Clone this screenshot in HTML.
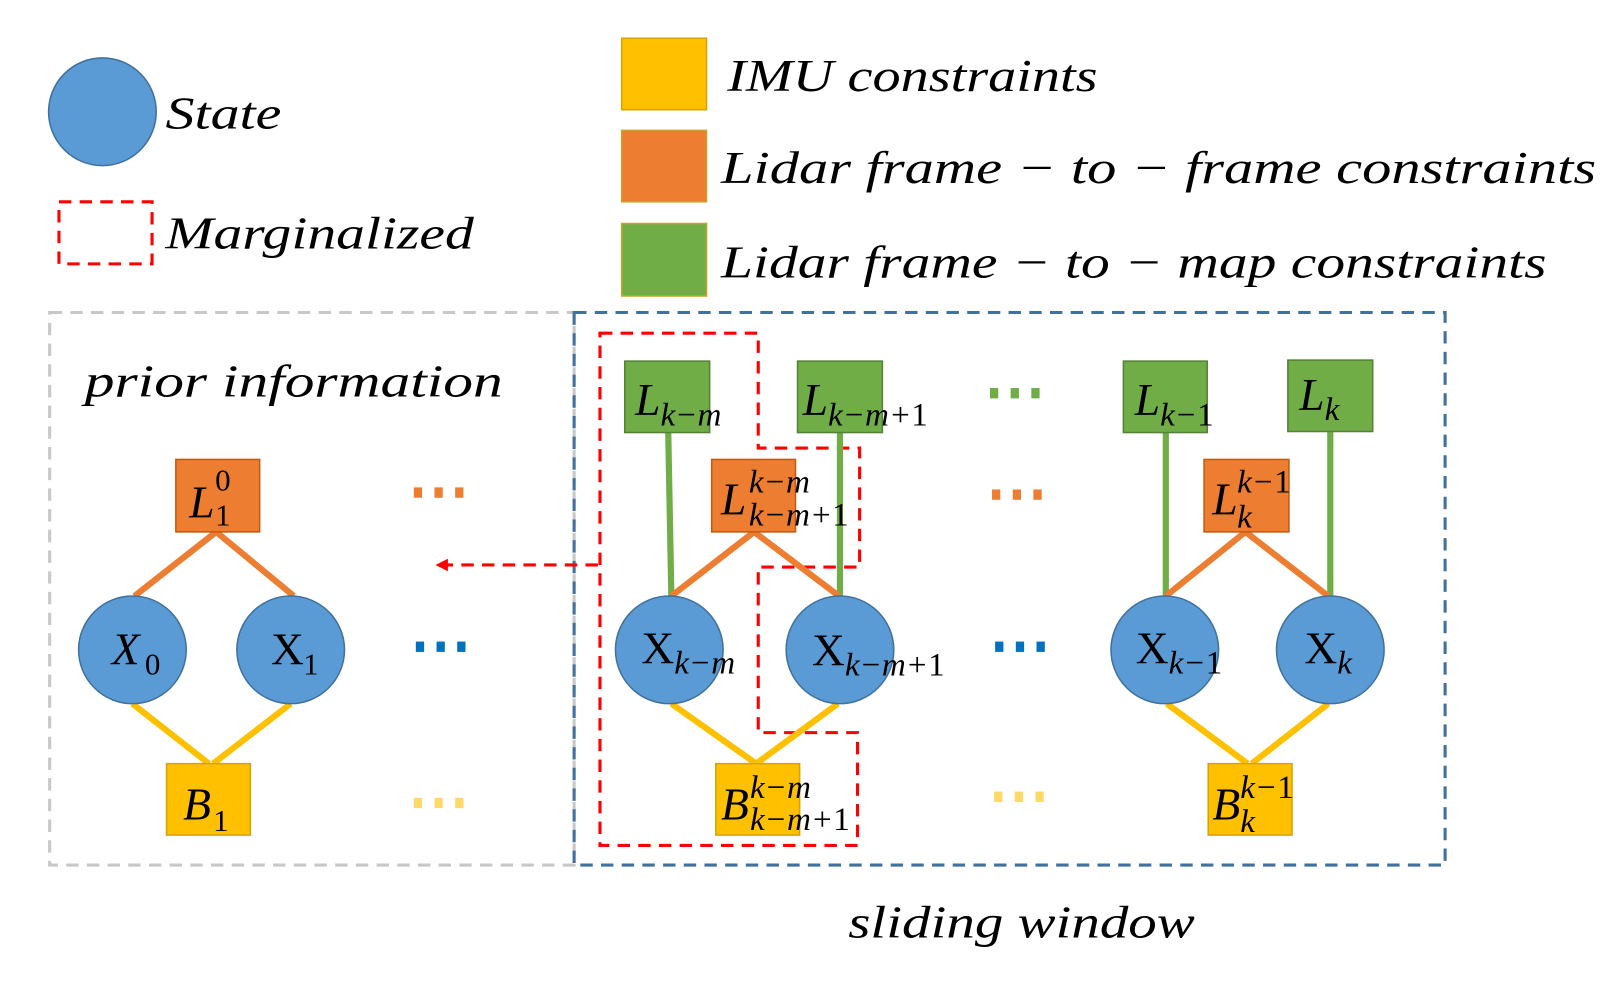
<!DOCTYPE html>
<html><head><meta charset="utf-8"><style>
html,body{margin:0;padding:0;background:#fff;}
svg{display:block;}
text{font-family:"Liberation Serif",serif;fill:#000;}
.i{font-style:italic;}
.u{font-style:normal;}
</style></head><body>
<svg width="1622" height="982" viewBox="0 0 1568 949" preserveAspectRatio="none" xmlns="http://www.w3.org/2000/svg">
<!-- legend -->
<circle cx="99" cy="108" r="52" fill="#5b9bd5" stroke="#41719c" stroke-width="1.5"/>
<text class="i" x="160" y="124" font-size="44" textLength="112" lengthAdjust="spacingAndGlyphs">State</text>
<rect x="57" y="195" width="90" height="60" fill="none" stroke="#ff0000" stroke-width="3" stroke-dasharray="12,8"/>
<text class="i" x="160" y="240" font-size="44" textLength="298" lengthAdjust="spacingAndGlyphs">Marginalized</text>
<rect x="601" y="37" width="82" height="69" fill="#ffc000" stroke="#d6a300" stroke-width="1.5"/>
<text class="i" x="703" y="88" font-size="44" textLength="358" lengthAdjust="spacingAndGlyphs">IMU constraints</text>
<rect x="601" y="126" width="82" height="69" fill="#ed7d31" stroke="#c9a227" stroke-width="1.5"/>
<text class="i" x="697" y="177" font-size="44" textLength="846" lengthAdjust="spacingAndGlyphs">Lidar frame − to − frame constraints</text>
<rect x="601" y="216" width="82" height="70" fill="#70ad47" stroke="#c9a227" stroke-width="1.5"/>
<text class="i" x="697" y="268" font-size="44" textLength="798" lengthAdjust="spacingAndGlyphs">Lidar frame − to − map constraints</text>

<!-- boxes -->
<rect x="48" y="302" width="507" height="534" fill="none" stroke="#c8c8c8" stroke-width="3" stroke-dasharray="12,8"/>
<rect x="555" y="302" width="842" height="534" fill="none" stroke="#41719c" stroke-width="3" stroke-dasharray="12,8"/>
<text class="i" x="82" y="383" font-size="44" textLength="404" lengthAdjust="spacingAndGlyphs">prior information</text>
<text class="i" x="820" y="906" font-size="44" textLength="335" lengthAdjust="spacingAndGlyphs">sliding window</text>

<!-- marginalized region -->
<polygon points="580,322 733,322 733,433 831,433 831,548 733,548 733,708 829,708 829,817 580,817" fill="none" stroke="#ff0000" stroke-width="3" stroke-dasharray="12,8"/>
<line x1="578" y1="546" x2="432" y2="546" stroke="#ff0000" stroke-width="3" stroke-dasharray="12,8"/>
<polygon points="421,546 433,540 433,552" fill="#ff0000"/>

<!-- edges -->
<g stroke-width="6" stroke-linecap="butt">
<line x1="209" y1="514" x2="130" y2="576" stroke="#ed7d31"/>
<line x1="209" y1="514" x2="284" y2="576" stroke="#ed7d31"/>
<line x1="128" y1="680" x2="202" y2="738" stroke="#ffc000"/>
<line x1="281" y1="680" x2="206" y2="738" stroke="#ffc000"/>
<line x1="646" y1="418" x2="649" y2="576" stroke="#70ad47"/>
<line x1="812" y1="418" x2="812" y2="576" stroke="#70ad47"/>
<line x1="1127" y1="418" x2="1127" y2="576" stroke="#70ad47"/>
<line x1="1286" y1="417" x2="1286" y2="576" stroke="#70ad47"/>
<line x1="729" y1="514" x2="649" y2="576" stroke="#ed7d31"/>
<line x1="729" y1="514" x2="811" y2="576" stroke="#ed7d31"/>
<line x1="1204" y1="514" x2="1127" y2="576" stroke="#ed7d31"/>
<line x1="1204" y1="514" x2="1284" y2="576" stroke="#ed7d31"/>
<line x1="649" y1="680" x2="731" y2="738" stroke="#ffc000"/>
<line x1="810" y1="680" x2="731" y2="738" stroke="#ffc000"/>
<line x1="1128" y1="680" x2="1206" y2="738" stroke="#ffc000"/>
<line x1="1284" y1="680" x2="1210" y2="738" stroke="#ffc000"/>
</g>

<!-- nodes -->
<g stroke-width="1.5">
<rect x="170" y="444" width="81" height="70" fill="#ed7d31" stroke="#c55a11"/>
<rect x="161" y="738" width="81" height="69" fill="#ffc000" stroke="#d6a300"/>
<circle cx="128" cy="628" r="52" fill="#5b9bd5" stroke="#41719c"/>
<circle cx="281" cy="628" r="52" fill="#5b9bd5" stroke="#41719c"/>
<rect x="604" y="349" width="82" height="69" fill="#70ad47" stroke="#548235"/>
<rect x="771" y="349" width="82" height="69" fill="#70ad47" stroke="#548235"/>
<rect x="1086" y="349" width="81" height="69" fill="#70ad47" stroke="#548235"/>
<rect x="1245" y="348" width="82" height="69" fill="#70ad47" stroke="#548235"/>
<rect x="688" y="444" width="81" height="70" fill="#ed7d31" stroke="#c55a11"/>
<rect x="1164" y="444" width="82" height="70" fill="#ed7d31" stroke="#c55a11"/>
<circle cx="647" cy="628" r="52" fill="#5b9bd5" stroke="#41719c"/>
<circle cx="812" cy="628" r="52" fill="#5b9bd5" stroke="#41719c"/>
<circle cx="1126" cy="628" r="52" fill="#5b9bd5" stroke="#41719c"/>
<circle cx="1286" cy="628" r="52" fill="#5b9bd5" stroke="#41719c"/>
<rect x="692" y="738" width="81" height="69" fill="#ffc000" stroke="#d6a300"/>
<rect x="1168" y="738" width="81" height="69" fill="#ffc000" stroke="#d6a300"/>
</g>

<!-- dots -->
<g>
<g fill="#ed7d31"><rect x="400" y="471" width="8" height="10"/><rect x="420" y="471" width="8" height="10"/><rect x="440" y="471" width="8" height="10"/></g>
<g fill="#0070c0"><rect x="402" y="620" width="8" height="10"/><rect x="422" y="620" width="8" height="10"/><rect x="442" y="620" width="8" height="10"/></g>
<g fill="#ffd966"><rect x="400" y="771" width="8" height="10"/><rect x="420" y="771" width="8" height="10"/><rect x="440" y="771" width="8" height="10"/></g>
<g fill="#70ad47"><rect x="957" y="375" width="8" height="10"/><rect x="977" y="375" width="8" height="10"/><rect x="997" y="375" width="8" height="10"/></g>
<g fill="#ed7d31"><rect x="959" y="473" width="8" height="10"/><rect x="979" y="473" width="8" height="10"/><rect x="999" y="473" width="8" height="10"/></g>
<g fill="#0070c0"><rect x="962" y="620" width="8" height="10"/><rect x="982" y="620" width="8" height="10"/><rect x="1002" y="620" width="8" height="10"/></g>
<g fill="#ffd966"><rect x="961" y="765" width="8" height="10"/><rect x="981" y="765" width="8" height="10"/><rect x="1001" y="765" width="8" height="10"/></g>
</g>

<!-- labels -->
<g font-size="44">
<text class="i" x="183" y="500">L</text>
<text class="u" x="208" y="508" font-size="30">1</text>
<text class="u" x="208" y="474" font-size="30">0</text>
<text class="i" x="177" y="792">B</text><text class="u" x="206" y="803" font-size="30">1</text>
<text class="i" x="108" y="642">X</text><text class="u" x="140" y="652" font-size="30">0</text>
<text class="u" x="262" y="642">X</text><text class="u" x="293" y="652" font-size="30">1</text>

<text class="i" x="614" y="401">L<tspan font-size="32" dy="10">k−m</tspan></text>
<text class="i" x="776" y="401">L<tspan font-size="32" dy="10">k−m+</tspan><tspan class="u" font-size="32">1</tspan></text>
<text class="i" x="1097" y="401">L<tspan font-size="32" dy="10">k−</tspan><tspan class="u" font-size="32">1</tspan></text>
<text class="i" x="1256" y="396">L<tspan font-size="32" dy="10">k</tspan></text>

<text class="i" x="697" y="497">L</text>
<text class="i" x="724" y="476" font-size="32">k−m</text>
<text class="i" x="724" y="508" font-size="32">k−m+<tspan class="u">1</tspan></text>
<text class="i" x="1172" y="497">L</text>
<text class="i" x="1196" y="476" font-size="32">k−<tspan class="u">1</tspan></text>
<text class="i" x="1196" y="510" font-size="32">k</text>

<text class="i" x="697" y="792">B</text>
<text class="i" x="725" y="771" font-size="32">k−m</text>
<text class="i" x="725" y="802" font-size="32">k−m+<tspan class="u">1</tspan></text>
<text class="i" x="1172" y="792">B</text>
<text class="i" x="1199" y="771" font-size="32">k−<tspan class="u">1</tspan></text>
<text class="i" x="1199" y="804" font-size="32">k</text>

<text class="u" x="620" y="641">X<tspan class="i" font-size="32" dy="10">k−m</tspan></text>
<text class="u" x="785" y="643">X<tspan class="i" font-size="32" dy="10">k−m+</tspan><tspan font-size="32">1</tspan></text>
<text class="u" x="1098" y="641">X<tspan class="i" font-size="32" dy="10">k−</tspan><tspan font-size="32">1</tspan></text>
<text class="u" x="1261" y="641">X<tspan class="i" font-size="32" dy="10">k</tspan></text>
</g>
</svg>
</body></html>
